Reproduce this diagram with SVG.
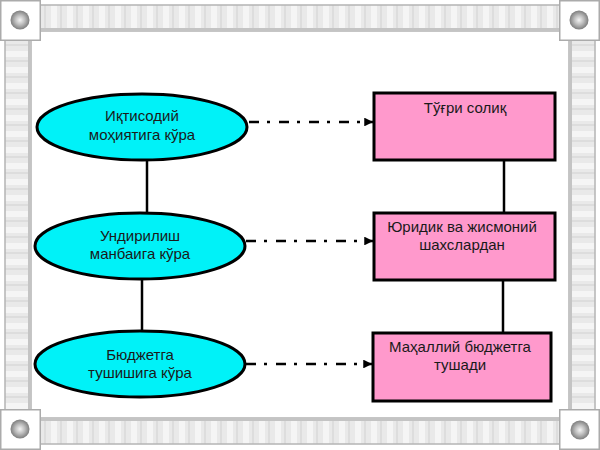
<svg xmlns="http://www.w3.org/2000/svg" width="600" height="450" viewBox="0 0 600 450">
<defs>
<style>
.bar{stroke:#b4b4b4;stroke-width:1.5}
.corner{fill:#fff;stroke:#ababab;stroke-width:1.5}
.ell{fill:#00f2f8;stroke:#000;stroke-width:3}
.box{fill:#ff99cc;stroke:#000;stroke-width:3}
.line{stroke:#000;stroke-width:2.5;fill:none}
.dash{stroke:#000;stroke-width:2.5;fill:none;stroke-dasharray:10 8 3 9}
text{font-family:"Liberation Sans",Arial,sans-serif;font-size:15px;fill:#1a1a1a;text-anchor:middle}
</style>
<pattern id="vstripe" patternUnits="userSpaceOnUse" width="16" height="30">
<rect width="16" height="30" fill="#e9e9e9"/>
<rect x="3" width="6" height="30" fill="#f5f5f5"/>
<rect x="12" width="2" height="30" fill="#dddddd"/>
</pattern>
<pattern id="hstripe" patternUnits="userSpaceOnUse" width="30" height="16">
<rect width="30" height="16" fill="#e9e9e9"/>
<rect y="3" width="30" height="6" fill="#f5f5f5"/>
<rect y="12" width="30" height="2" fill="#dddddd"/>
</pattern>
<radialGradient id="knob" cx="0.5" cy="0.5" r="0.5">
<stop offset="0" stop-color="#f4f4f4"/>
<stop offset="0.5" stop-color="#bdbdbd"/>
<stop offset="1" stop-color="#7d7d7d"/>
</radialGradient>
<marker id="arr" viewBox="0 0 10 10" refX="10" refY="5" markerWidth="3.5" markerHeight="3.5" orient="auto" markerUnits="strokeWidth">
<path d="M0,0 L10,5 L0,10 z" fill="#000"/>
</marker>
</defs>
<rect width="600" height="450" fill="#fff"/>
<g id="frame">
<rect class="bar" x="40" y="5" width="520" height="26" fill="url(#vstripe)"/>
<rect x="40" y="28" width="520" height="3" fill="#c4c4c4"/>
<rect class="bar" x="40" y="418" width="520" height="26" fill="url(#vstripe)"/>
<rect x="40" y="418" width="520" height="3" fill="#c4c4c4"/>
<rect class="bar" x="5" y="40" width="26" height="370" fill="url(#hstripe)"/>
<rect x="28" y="40" width="3" height="370" fill="#c4c4c4"/>
<rect class="bar" x="569" y="40" width="26" height="370" fill="url(#hstripe)"/>
<rect x="569" y="40" width="3" height="370" fill="#c4c4c4"/>
<rect class="corner" x="0.75" y="0.75" width="39.5" height="39.5"/>
<circle cx="20" cy="20" r="9.5" fill="url(#knob)"/>
<rect class="corner" x="559.75" y="0.75" width="39.5" height="39.5"/>
<circle cx="579" cy="20" r="9.5" fill="url(#knob)"/>
<rect class="corner" x="0.75" y="409.75" width="39.5" height="39.5"/>
<circle cx="20" cy="429" r="9.5" fill="url(#knob)"/>
<rect class="corner" x="559.75" y="409.75" width="39.5" height="39.5"/>
<circle cx="580" cy="430" r="9.5" fill="url(#knob)"/>
</g>
<g id="connectors">
<line class="line" x1="147" y1="160" x2="147" y2="213"/>
<line class="line" x1="142" y1="279" x2="142" y2="331"/>
<line class="line" x1="504" y1="160" x2="504" y2="213"/>
<line class="line" x1="503" y1="280" x2="503" y2="333"/>
<line class="dash" x1="249" y1="122" x2="373" y2="122" marker-end="url(#arr)"/>
<line class="dash" x1="246" y1="241" x2="373" y2="241" marker-end="url(#arr)"/>
<line class="dash" x1="246" y1="364" x2="372" y2="364" marker-end="url(#arr)"/>
</g>
<g id="e1">
<ellipse class="ell" cx="142" cy="127" rx="105" ry="33"/>
<text x="142" y="121">Иқтисодий</text>
<text x="142" y="140">моҳиятига кўра</text>
</g>
<g id="e2">
<ellipse class="ell" cx="140" cy="246" rx="105" ry="33"/>
<text x="140" y="241">Ундирилиш</text>
<text x="140" y="259">манбаига кўра</text>
</g>
<g id="e3">
<ellipse class="ell" cx="140" cy="364" rx="105" ry="33"/>
<text x="140" y="360">Бюджетга</text>
<text x="140" y="378">тушишига кўра</text>
</g>
<g id="r1">
<rect class="box" x="374" y="93" width="181" height="67"/>
<text x="465" y="113">Тўғри солиқ</text>
</g>
<g id="r2">
<rect class="box" x="374" y="213" width="181" height="67"/>
<text x="462" y="232">Юридик ва жисмоний</text>
<text x="462" y="250">шахслардан</text>
</g>
<g id="r3">
<rect class="box" x="373" y="333" width="178" height="68"/>
<text x="460" y="352">Маҳаллий бюджетга</text>
<text x="460" y="370">тушади</text>
</g>
</svg>
